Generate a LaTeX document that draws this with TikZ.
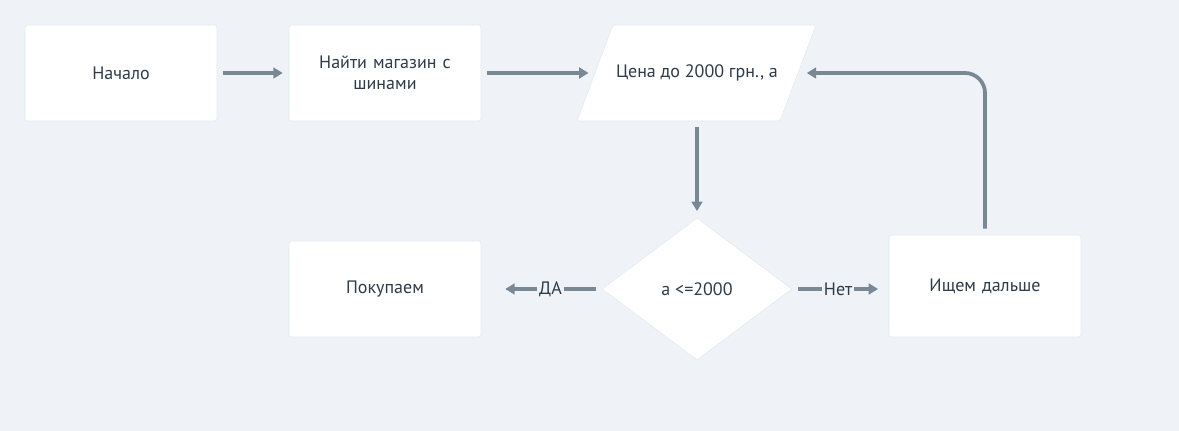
\documentclass[tikz,border=0pt]{standalone}
\usepackage{fontspec}
\setmainfont{PT Sans}
\usetikzlibrary{arrows.meta,shapes.geometric}
\definecolor{bgcol}{HTML}{EFF3F7}
\definecolor{linecol}{HTML}{7A8794}
\definecolor{txtcol}{HTML}{2F3B47}
\definecolor{edgecol}{HTML}{E3E8EE}
\begin{document}
\begin{tikzpicture}[x=0.75pt,y=-0.75pt,>={Triangle[length=7pt,width=8pt]},font=\fontsize{13.5}{16}\selectfont,text=txtcol]
	\tikzset{block/.style={rectangle,fill=white,draw=edgecol,line width=0.4pt,rounded corners=2pt,minimum width=144pt,minimum height=72pt,align=center,text width=120pt},
		io/.style={rectangle,minimum width=152.25pt,minimum height=72pt},
		test/.style={diamond,fill=white,draw=edgecol,line width=0.4pt,minimum width=142.5pt,minimum height=106.5pt,inner sep=0pt},
		link/.style={->,draw=linecol,line width=2.8pt},
		tag/.style={fill=bgcol,inner sep=1.5pt}}
	\fill[bgcol] (0,0) rectangle (1179,431);
	\useasboundingbox (0,0) rectangle (1179,431);
	% input box
	\filldraw[fill=white,draw=edgecol,line width=0.4pt,rounded corners=2pt] (613,25) -- (816,25) -- (780,121) -- (577,121) -- cycle;
	\node[block] (start) at (121,73) {Начало};
	\node[block] (find) at (385,73) {Найти магазин с\\шинами};
	\node[io] (price) at (697,73) {Цена до 2000 грн., а};
	\node[test] (check) at (697,289) {a <=2000};
	\node[block] (buy) at (385,289) {Покупаем};
	\node[block,minimum height=76.5pt] (more) at (985,286) {Ищем дальше};
	\draw[link] ([xshift=4.5pt]start.east) -- ([xshift=-4.5pt]find.west);
	\draw[link] ([xshift=4.5pt]find.east) -- ([xshift=-5pt]price.west);
	\draw[link] ([yshift=-4.5pt]price.south) -- ([yshift=5pt]check.north);
	\draw[link] ([xshift=-4.5pt]check.west) -- node[tag] {ДА} ([xshift=18pt]buy.east);
	\draw[link] ([xshift=4.5pt]check.east) -- node[tag] {Нет} ([xshift=-8pt]more.west |- check.east);
	\draw[link,rounded corners=15pt] ([yshift=4.5pt]more.north) |- ([xshift=6pt]price.east);
\end{tikzpicture}
\end{document}
